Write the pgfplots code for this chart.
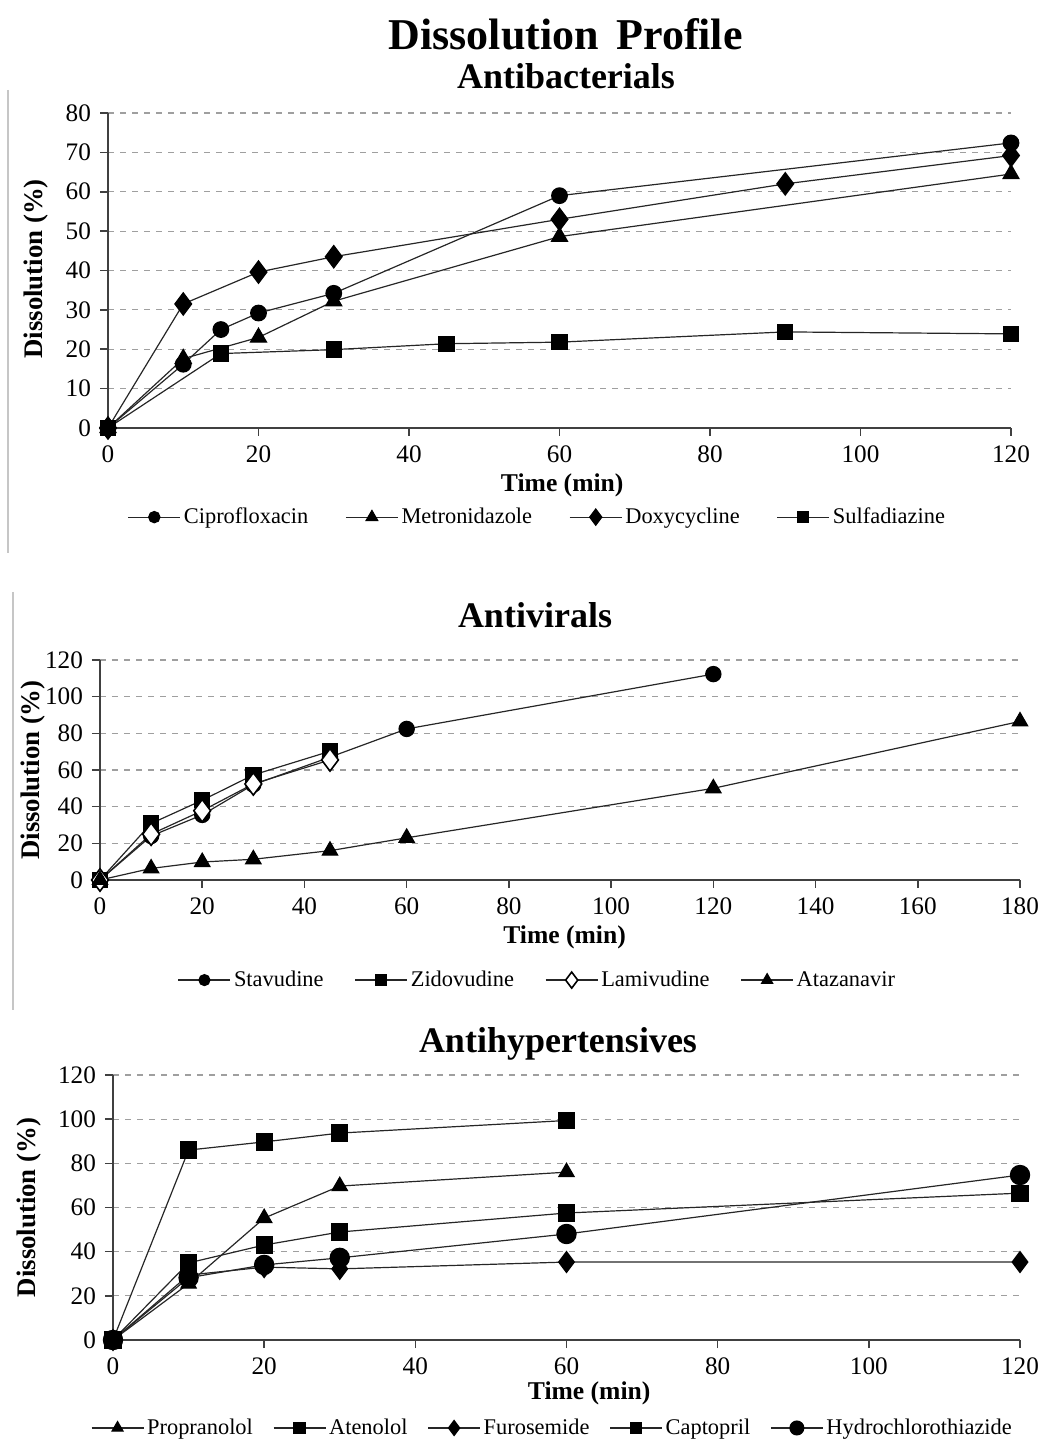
\documentclass[border=0pt]{standalone}
\usepackage{fontspec}
\setmainfont{Liberation Serif}
\newfontfamily\ylfont{Liberation Serif}
\usepackage{pgfplots}
\pgfplotsset{compat=1.18}

\pgfplotsset{
  myax/.style={
    scale only axis,
    axis lines*=left,
    axis line style={black!75, line width=0.8pt, -},
    tick align=outside,
    major tick length=4pt,
    tick style={black!75, line width=0.8pt},
    xtick pos=bottom, ytick pos=left,
    ymajorgrids,
    grid style={dashed, gray!75, line width=0.6pt},
    clip=false,
    /pgf/number format/assume math mode=true,
    tick label style={font=\fontsize{12.6}{13}\selectfont},
    xticklabel style={yshift=-1.5pt},
    yticklabel style={xshift=-1pt},
    xlabel style={font=\bfseries\fontsize{12.8}{13}\selectfont, anchor=center},
    ylabel style={font=\ylfont\bfseries\fontsize{13.4}{14}\selectfont, anchor=center, rotate=0},
    legend style={draw=none, fill=none, font=\fontsize{11.2}{12}\selectfont,
      legend columns=-1, anchor=center, inner sep=0pt,
      nodes={inner xsep=1.5pt}},
    legend image code/.code={\draw[mark repeat=2, mark phase=2, every mark/.append style={scale=0.72}]
       plot coordinates {(0pt,0pt) (13pt,0pt) (26pt,0pt)};},
    every axis plot/.append style={line width=0.6pt, black!85},
  },
  mcirc/.style={mark=*, mark size=#1, mark options={fill=black, draw=black}},
  mtri/.style={mark=triangle*, mark size=#1, mark options={fill=black, draw=black}},
  mdia/.style={mark=diamond*, mark size=#1, mark options={fill=black, draw=black}},
  msq/.style={mark=square*, mark size=#1, mark options={fill=black, draw=black}},
  mdiaopen/.style={mark=diamond*, mark size=#1, mark options={fill=white, draw=black, line width=0.8pt}},
}

\begin{document}
\begin{tikzpicture}
\path[use as bounding box] (0pt,0pt) rectangle (524pt,722.5pt);
% panel borders (light gray)
\draw[gray!45, line width=0.6pt] (4pt,677.5pt) -- (4pt,446pt);
\draw[gray!45, line width=0.6pt] (6.5pt,426.5pt) -- (6.5pt,217.5pt);

% titles
\node[anchor=base, font=\bfseries\fontsize{22}{24}\selectfont, inner sep=0pt] at (282.8pt, 697.5pt) {Dissolution\hspace{0.15em} Profile};
\node[anchor=base, font=\bfseries\fontsize{18}{20}\selectfont, inner sep=0pt] at (283pt, 678pt) {Antibacterials};
\node[anchor=base, font=\bfseries\fontsize{18}{20}\selectfont, inner sep=0pt] at (267.5pt, 408.5pt) {Antivirals};
\node[anchor=base, font=\bfseries\fontsize{18}{20}\selectfont, inner sep=0pt] at (279pt, 196pt) {Antihypertensives};

% ---------------- Panel 1: Antibacterials ----------------
\begin{axis}[myax,
  at={(54pt,508.5pt)}, anchor=south west,
  width=451.5pt, height=157.5pt,
  xmin=0, xmax=120, ymin=0, ymax=80,
  xtick={0,20,...,120}, ytick={0,10,...,80},
  xlabel={Time (min)}, ylabel={Dissolution (\%)},
  xlabel style={at={(axis description cs:0.503,-0.181)}},
  ylabel style={at={(axis description cs:-0.080,0.505)}},
  legend style={at={(axis description cs:0.476,-0.283)},
    /tikz/every even column/.append style={column sep=17pt}},
]
\addplot[mcirc=3.9pt] coordinates {(0,0) (10,16.2) (15,25) (20,29.2) (30,34.2) (60,59) (120,72.4)};
\addlegendentry{Ciprofloxacin}
\addplot[mtri=4.6pt] coordinates {(0,0) (10,17.6) (20,23) (30,32.2) (60,48.6) (120,64.5)};
\addlegendentry{Metronidazole}
\addplot[mdia=5.6pt] coordinates {(0,0) (10,31.5) (20,39.6) (30,43.5) (60,53) (90,62) (120,69.2)};
\addlegendentry{Doxycycline}
\addplot[msq=3.8pt] coordinates {(0,0) (15,18.9) (30,19.9) (45,21.4) (60,21.8) (90,24.4) (120,23.9)};
\addlegendentry{Sulfadiazine}
\end{axis}

% ---------------- Panel 2: Antivirals ----------------
\begin{axis}[myax,
  at={(50pt,282.5pt)}, anchor=south west,
  width=460pt, height=110pt,
  xmin=0, xmax=180, ymin=0, ymax=120,
  xtick={0,20,...,180}, ytick={0,20,...,120},
  xlabel={Time (min)}, ylabel={Dissolution (\%)},
  xlabel style={at={(axis description cs:0.505,-0.26)}},
  ylabel style={at={(axis description cs:-0.073,0.50)}},
  legend style={at={(axis description cs:0.476,-0.455)},
    /tikz/every even column/.append style={column sep=14pt}},
]
\addplot[mcirc=3.8pt] coordinates {(0,0) (10,24) (20,35.5) (30,52) (45,67) (60,82.4) (120,112.3)};
\addlegendentry{Stavudine}
\addplot[msq=3.8pt] coordinates {(0,0) (10,30.8) (20,43.5) (30,57.3) (45,70.2)};
\addlegendentry{Zidovudine}
\addplot[mdiaopen=5.6pt] coordinates {(0,0) (10,25) (20,37.8) (30,52.4) (45,65.5)};
\addlegendentry{Lamivudine}
\addplot[mtri=4.4pt] coordinates {(0,0) (10,6.3) (20,9.8) (30,11.3) (45,16) (60,23) (120,50) (180,86.5)};
\addlegendentry{Atazanavir}
\end{axis}

% ---------------- Panel 3: Antihypertensives ----------------
\begin{axis}[myax,
  at={(56.5pt,52.5pt)}, anchor=south west,
  width=453.5pt, height=132.5pt,
  xmin=0, xmax=120, ymin=0, ymax=120,
  xtick={0,20,...,120}, ytick={0,20,...,120},
  xlabel={Time (min)}, ylabel={Dissolution (\%)},
  xlabel style={at={(axis description cs:0.525,-0.20)}},
  ylabel style={at={(axis description cs:-0.093,0.50)}},
  legend style={at={(axis description cs:0.485,-0.332)},
    /tikz/every even column/.append style={column sep=8.5pt}},
]
\addplot[mtri=4.4pt] coordinates {(0,0) (10,25.5) (20,55.2) (30,69.7) (60,76)};
\addlegendentry{Propranolol}
\addplot[msq=4pt] coordinates {(0,0) (10,34.9) (20,43) (30,48.9) (60,57.5) (120,66.5)};
\addlegendentry{Atenolol}
\addplot[mdia=5.2pt] coordinates {(0,0) (10,29.4) (20,33) (30,32.2) (60,35.3) (120,35.3)};
\addlegendentry{Furosemide}
\addplot[msq=4pt] coordinates {(0,0) (10,86) (20,89.7) (30,93.7) (60,99.4)};
\addlegendentry{Captopril}
\addplot[mcirc=4.8pt] coordinates {(0,0) (10,28.2) (20,34) (30,37.2) (60,48) (120,74.7)};
\addlegendentry{Hydrochlorothiazide}
\end{axis}
\end{tikzpicture}
\end{document}
